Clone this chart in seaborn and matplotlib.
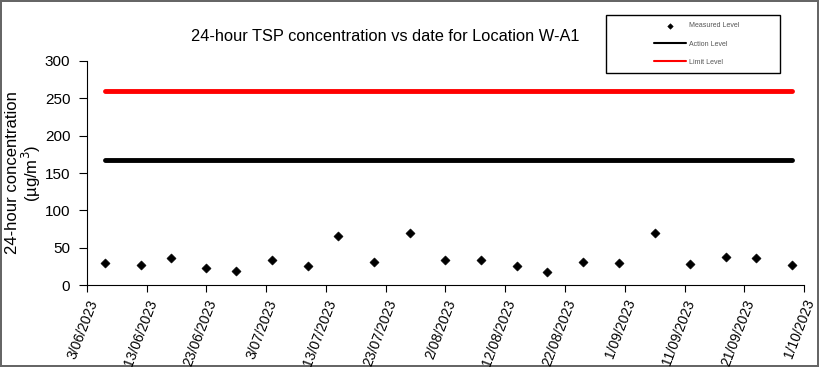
import pandas as pd
import matplotlib
matplotlib.use("Agg")
import matplotlib.pyplot as plt
from matplotlib.patches import Rectangle
import seaborn as sns

# measured 24-hour TSP values
dates = ["2023-06-06", "2023-06-12", "2023-06-17", "2023-06-23", "2023-06-28",
         "2023-07-04", "2023-07-10", "2023-07-15", "2023-07-21", "2023-07-27",
         "2023-08-02", "2023-08-08", "2023-08-14", "2023-08-19", "2023-08-25",
         "2023-08-31", "2023-09-06", "2023-09-12", "2023-09-18", "2023-09-23",
         "2023-09-29"]
tsp = [29.5, 27, 36, 23, 19, 33.5, 25, 66, 31, 70,
       33.5, 33, 26, 18, 31, 30, 69, 28, 37.5, 36, 27]
action_level = 167
limit_level = 260

tick_dates = ["2023-06-03", "2023-06-13", "2023-06-23", "2023-07-03", "2023-07-13",
              "2023-07-23", "2023-08-02", "2023-08-12", "2023-08-22", "2023-09-01",
              "2023-09-11", "2023-09-21", "2023-10-01"]

data = pd.DataFrame({"date": pd.to_datetime(dates), "tsp": tsp})
data["action"] = action_level
data["limit"] = limit_level

sns.set_style("ticks", {"text.color": "black", "axes.labelcolor": "black",
                        "xtick.color": "black", "ytick.color": "black",
                        "axes.edgecolor": "black"})
plt.rcParams["font.family"] = ["Liberation Sans", "DejaVu Sans"]

fig = plt.figure(figsize=(8.19, 3.67), dpi=100)
fig.patch.set_edgecolor("#666666")
fig.patch.set_linewidth(1.5)
ax = fig.add_axes([0.1062, 0.2234, 0.8755, 0.6104])

sns.lineplot(data=data, x="date", y="limit", color="red", linewidth=3.5, ax=ax, label="Limit Level")
sns.lineplot(data=data, x="date", y="action", color="black", linewidth=3.5, ax=ax, label="Action Level")
sns.scatterplot(data=data, x="date", y="tsp", marker="D", color="black", s=22,
                edgecolor="black", ax=ax, label="Measured Level", zorder=3)

ticks = pd.to_datetime(tick_dates)
ax.set_xlim(ticks[0], ticks[-1])
ax.set_xticks(ticks)
ax.set_xticklabels([f"{t.day}/{t.month:02d}/{t.year}" for t in ticks],
                   rotation=69, ha="right", rotation_mode="anchor", fontsize=10)
ax.set_ylim(0, 300)
ax.set_yticks(range(0, 301, 50))
ax.tick_params(axis="y", labelsize=11, length=6, width=0.8, pad=6)
ax.tick_params(axis="x", length=5, width=0.8, pad=4)
sns.despine(ax=ax)
ax.spines["left"].set_linewidth(0.8)
ax.spines["bottom"].set_linewidth(0.8)

ax.set_xlabel("")
ax.set_ylabel("24-hour concentration\n(µg/m$^3$)", fontsize=12, labelpad=1, linespacing=1.0)
fig.text(0.47, 0.9, "24-hour TSP concentration vs date for Location W-A1",
         ha="center", va="center", fontsize=11.8)

# legend box drawn separately so it can be wider than its contents
fig.patches.append(Rectangle((606 / 819, 1 - 73 / 367), 174 / 819, 58 / 367,
                             transform=fig.transFigure, facecolor="white",
                             edgecolor="black", linewidth=1.0, zorder=5))
h, l = ax.get_legend_handles_labels()
ax.get_legend().remove()
order = [2, 1, 0]
leg = fig.legend([h[i] for i in order], [l[i] for i in order],
                 loc="center left", bbox_to_anchor=(649 / 819, 1 - 44 / 367),
                 bbox_transform=fig.transFigure, fontsize=5, frameon=False,
                 handlelength=4.6, labelspacing=1.6, borderpad=0.2,
                 handletextpad=0.4, markerscale=0.6)
leg.set_zorder(6)
for line in leg.get_lines():
    line.set_linewidth(1.5)
for txt in leg.get_texts():
    txt.set_color("#555555")

fig.savefig("out.png", dpi=100)
